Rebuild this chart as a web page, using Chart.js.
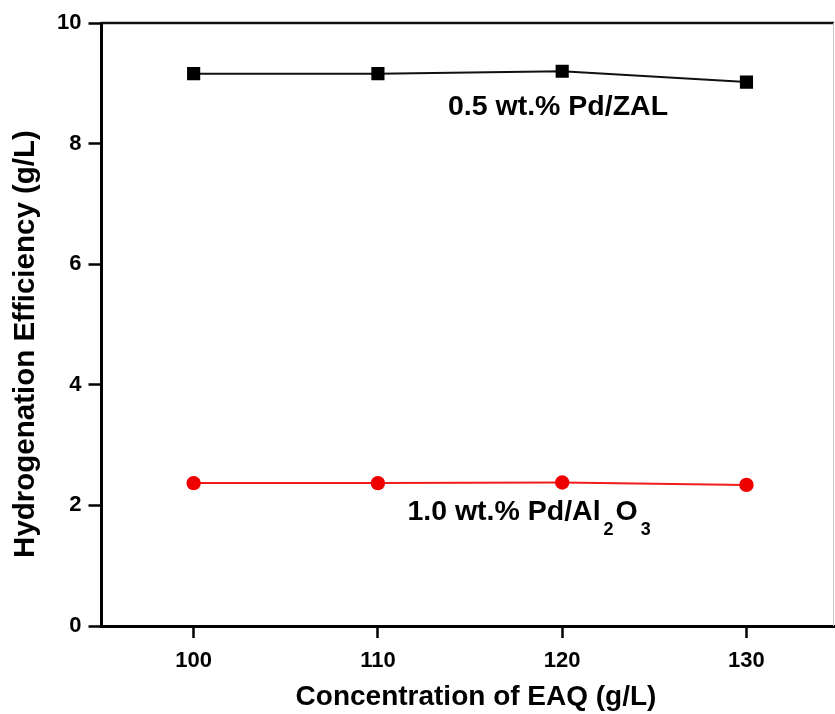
<!DOCTYPE html>
<html>
<head>
<meta charset="utf-8">
<script src="https://cdn.jsdelivr.net/npm/chart.js@4.4.1/dist/chart.umd.min.js"></script>
<style>
  html, body { margin: 0; padding: 0; background: #fff; }
  #wrap { width: 835px; height: 714px; }
</style>
</head>
<body>
<div id="wrap"><canvas id="myChart" width="835" height="714"></canvas></div>
<script>
// EAQ concentration (g/L)
const concentration = [100, 110, 120, 130];
// hydrogenation efficiency (g/L)
const pdZal = [9.16, 9.16, 9.20, 9.02];
const pdAl2o3 = [2.37, 2.37, 2.38, 2.34];

const xTicks = [100, 110, 120, 130];
const yTicks = [0, 2, 4, 6, 8, 10];

const FONT = "'Liberation Sans', Arial, Helvetica, sans-serif";

const toPoints = (xs, ys) => xs.map((x, i) => ({ x: x, y: ys[i] }));

// top / right frame of the plot box
const frame = {
    id: "frame",
    afterDraw(chart) {
        const { ctx, chartArea: a } = chart;
        ctx.save();
        ctx.strokeStyle = "#111";
        ctx.lineWidth = 2.5;
        ctx.beginPath();
        ctx.moveTo(a.left, a.top);
        ctx.lineTo(a.right, a.top);
        ctx.stroke();
        ctx.strokeStyle = "#c8c8c8";
        ctx.lineWidth = 1;
        ctx.beginPath();
        ctx.moveTo(a.right - 0.5, a.top);
        ctx.lineTo(a.right - 0.5, a.bottom);
        ctx.stroke();
        ctx.restore();
    },
};

// axis titles, placed by hand (slightly off the plot centre)
const axisTitles = {
    id: "axisTitles",
    afterDraw(chart) {
        const { ctx } = chart;
        ctx.save();
        ctx.fillStyle = "#000";
        ctx.textAlign = "center";
        ctx.textBaseline = "alphabetic";
        ctx.font = "bold 28px " + FONT;
        ctx.fillText("Concentration of EAQ (g/L)", 476, 705);
        ctx.translate(34, 344);
        ctx.rotate(-Math.PI / 2);
        ctx.font = "bold 29.5px " + FONT;
        ctx.fillText("Hydrogenation Efficiency (g/L)", 0, 0);
        ctx.restore();
    },
};

// series labels written next to the curves
const seriesLabels = {
    id: "seriesLabels",
    afterDatasetsDraw(chart) {
        const { ctx, scales } = chart;
        ctx.save();
        ctx.fillStyle = "#000";
        ctx.textBaseline = "alphabetic";
        ctx.textAlign = "left";
        const big = "bold 28.5px " + FONT;
        const small = "bold 18px " + FONT;

        ctx.font = big;
        ctx.fillText("0.5 wt.% Pd/ZAL", scales.x.getPixelForValue(113.8), scales.y.getPixelForValue(8.47));

        let x = scales.x.getPixelForValue(111.6);
        const y = scales.y.getPixelForValue(1.76);
        const parts = [
            ["1.0 wt.% Pd/Al", big, 0, 3],
            ["2", small, 15, 2],
            ["O", big, 0, 3],
            ["3", small, 15, 0],
        ];
        for (const [txt, f, dy, gap] of parts) {
            ctx.font = f;
            ctx.fillText(txt, x, y + dy);
            x += ctx.measureText(txt).width + gap;
        }
        ctx.restore();
    },
};

const myChart = new Chart(document.getElementById("myChart").getContext("2d"), {
    type: "line",
    data: {
        datasets: [
            {
                label: "0.5 wt.% Pd/ZAL",
                data: toPoints(concentration, pdZal),
                borderColor: "#111",
                backgroundColor: "#000",
                borderWidth: 2,
                pointStyle: "rect",
                pointRadius: 9.3,
                pointBorderWidth: 0,
                tension: 0,
            },
            {
                label: "1.0 wt.% Pd/Al2O3",
                data: toPoints(concentration, pdAl2o3),
                borderColor: "#f01c1c",
                backgroundColor: "#ee0000",
                borderWidth: 2,
                pointStyle: "circle",
                pointRadius: 7.2,
                pointBorderWidth: 0,
                tension: 0,
            },
        ],
    },
    options: {
        responsive: false,
        animation: false,
        layout: {
            autoPadding: false,
            padding: { top: 23, right: 1, left: 0, bottom: 0 },
        },
        plugins: {
            legend: { display: false },
            tooltip: { enabled: false },
        },
        scales: {
            x: {
                type: "linear",
                min: 95,
                max: 134.75,
                afterBuildTicks(scale) {
                    scale.ticks = xTicks.map((v) => ({ value: v }));
                },
                afterFit(scale) {
                    scale.height = 88;
                    scale.paddingLeft = 0;
                    scale.paddingRight = 0;
                },
                border: { display: true, color: "#000", width: 3 },
                grid: {
                    drawOnChartArea: false,
                    drawTicks: true,
                    tickLength: 12,
                    tickWidth: 2.5,
                    tickColor: "#000",
                },
                ticks: {
                    color: "#000",
                    padding: 10,
                    maxRotation: 0,
                    font: { family: FONT, size: 22, weight: "bold" },
                },
                title: { display: false },
            },
            y: {
                type: "linear",
                min: 0,
                max: 10,
                afterBuildTicks(scale) {
                    scale.ticks = yTicks.map((v) => ({ value: v }));
                },
                afterFit(scale) {
                    scale.width = 101.5;
                },
                border: { display: true, color: "#000", width: 3 },
                grid: {
                    drawOnChartArea: false,
                    drawTicks: true,
                    tickLength: 13,
                    tickWidth: 2.5,
                    tickColor: "#000",
                },
                ticks: {
                    color: "#000",
                    padding: 7,
                    font: { family: FONT, size: 22, weight: "bold" },
                },
                title: { display: false },
            },
        },
    },
    plugins: [frame, axisTitles, seriesLabels],
});
</script>
</body>
</html>
